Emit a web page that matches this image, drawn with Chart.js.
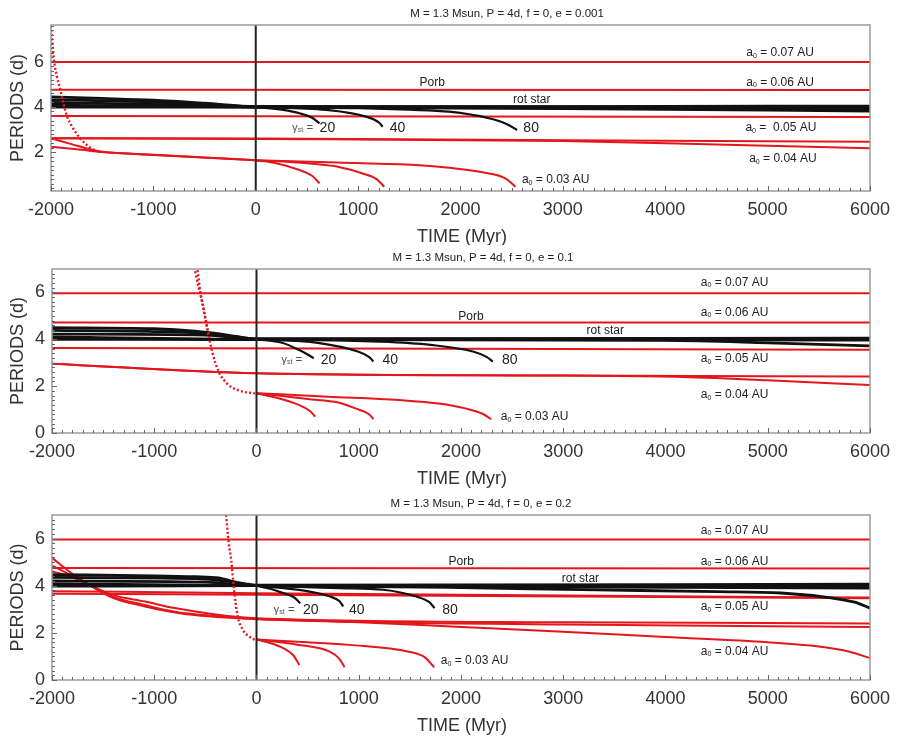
<!DOCTYPE html>
<html>
<head>
<meta charset="utf-8">
<script src="https://cdn.jsdelivr.net/npm/chart.js@4.4.0/dist/chart.umd.min.js"></script>
<style>
  body { margin: 0; background: #fff; }
  #wrap { position: relative; width: 898px; height: 739px; }
  #wrap canvas { position: absolute; left: 0; }
</style>
</head>
<body>
<div id="wrap">
  <canvas id="c1" width="898" height="245" style="top:0px"></canvas>
  <canvas id="c2" width="898" height="245" style="top:245px"></canvas>
  <canvas id="c3" width="898" height="249" style="top:490px"></canvas>
</div>
<script>
// ── Axis ticks / titles ──────────────────────────────────────────────────────
const xTicks = [-2000, -1000, 0, 1000, 2000, 3000, 4000, 5000, 6000];
const yTicksTop = [2, 4, 6];
const yTicksLow = [0, 2, 4, 6];
const titles = [
  "M = 1.3 Msun, P = 4d, f = 0, e = 0.001",
  "M = 1.3 Msun, P = 4d, f = 0, e = 0.1",
  "M = 1.3 Msun, P = 4d, f = 0, e = 0.2",
];

// ── Panel 1 (e = 0.001) ─────────────────────────────────────────────────────
// orbital periods, red
const p1Orb07 = [[-2000, 6.0], [6000, 6.0]];
const p1Orb06 = [[-2000, 4.76], [6000, 4.75]];
const p1Orb05 = [[-2000, 3.6], [2000, 3.58], [6000, 3.56]];
const p1Orb04a = [[-2000, 2.61], [0, 2.6], [3000, 2.52], [6000, 2.46]];
const p1Orb04b = [[-2000, 2.61], [0, 2.58], [3000, 2.49], [4500, 2.34], [6000, 2.17]];
const p1Orb03a = [[-2000, 2.61], [-1800, 2.35], [-1600, 2.1], [-1500, 2.01], [-1000, 1.88], [-500, 1.76], [0, 1.64]];
const p1Orb03b = [[-2000, 2.24], [-1700, 2.1], [-1500, 2.0], [-1000, 1.87], [0, 1.64]];
const p1Orb03g20 = [[0, 1.64], [200, 1.5], [428, 1.2], [550, 0.95], [623, 0.61]];
const p1Orb03g40 = [[0, 1.64], [500, 1.5], [800, 1.35], [1044, 1.05], [1180, 0.8], [1255, 0.46]];
const p1Orb03g80 = [[0, 1.64], [800, 1.53], [1563, 1.42], [1888, 1.3], [2277, 1.05], [2450, 0.8], [2537, 0.46]];
const p1Steep = [[-2005, 7.6], [-1993, 7.2], [-1975, 6.23], [-1942, 5.35], [-1908, 4.76], [-1875, 4.09],
  [-1842, 3.57], [-1793, 3.12], [-1728, 2.68], [-1631, 2.24], [-1534, 2.01]];
// stellar rotation, black
const p1RotA = [[-2000, 4.45], [-1500, 4.38], [-1000, 4.3], [-500, 4.17], [0, 4.02], [3000, 4.02], [6000, 4.04]];
const p1RotB = [[-2000, 4.33], [-1000, 4.22], [-500, 4.12], [0, 4.01], [6000, 4.0]];
const p1RotC = [[-2000, 4.2], [-1000, 4.12], [0, 4.0], [6000, 3.95]];
const p1RotD = [[-2000, 4.08], [0, 4.0], [6000, 3.9]];
const p1RotE = [[-2000, 3.99], [0, 3.99], [3000, 3.93], [6000, 3.82]];
const p1RotG20 = [[0, 4.0], [266, 3.87], [428, 3.72], [558, 3.5], [623, 3.27]];
const p1RotG40 = [[0, 4.0], [688, 3.87], [1077, 3.57], [1207, 3.3], [1240, 3.12]];
const p1RotG80 = [[0, 4.0], [1000, 3.95], [1500, 3.88], [1888, 3.79], [2277, 3.5], [2450, 3.25], [2553, 2.98]];

// ── Panel 2 (e = 0.1) ───────────────────────────────────────────────────────
const p2Orb07 = [[-2000, 5.97], [6000, 5.97]];
const p2Orb06 = [[-2000, 4.72], [6000, 4.72]];
const p2Orb05 = [[-2000, 3.63], [2000, 3.6], [6000, 3.55]];
const p2Orb04a = [[-2000, 2.96], [0, 2.55], [3000, 2.45], [6000, 2.41]];
const p2Orb04b = [[-2000, 2.96], [0, 2.55], [3000, 2.45], [4100, 2.4], [5000, 2.25], [6000, 2.05]];
const p2Orb03g20 = [[0, 1.7], [200, 1.5], [413, 1.2], [520, 0.95], [575, 0.7]];
const p2Orb03g40 = [[0, 1.7], [500, 1.45], [800, 1.3], [966, 1.05], [1100, 0.8], [1144, 0.59]];
const p2Orb03g80 = [[0, 1.7], [700, 1.55], [1391, 1.41], [1800, 1.25], [2044, 1.05], [2220, 0.8], [2295, 0.59]];
const p2Steep = [[-577, 6.95], [-545, 5.88], [-513, 5.17], [-481, 4.46], [-433, 3.46], [-369, 2.61],
  [-288, 2.11], [-175, 1.82], [0, 1.68]];
const p2SteepB = [[-600, 6.9], [-570, 6.3], [-530, 5.6], [-500, 4.9], [-470, 4.2]];
const p2RotA = [[-2000, 4.5], [-1000, 4.45], [-600, 4.35], [-400, 4.25], [-200, 4.12], [0, 4.02], [6000, 4.05]];
const p2RotB = [[-2000, 4.38], [-1000, 4.33], [-500, 4.25], [0, 4.02], [6000, 4.0]];
const p2RotC = [[-2000, 4.22], [-500, 4.18], [0, 4.01], [6000, 3.97]];
const p2RotD = [[-2000, 4.1], [0, 4.0], [6000, 4.02]];
const p2RotE = [[-2000, 4.0], [0, 3.99], [4000, 3.95], [5000, 3.85], [6000, 3.72]];
const p2RotG20 = [[0, 4.0], [250, 3.85], [413, 3.55], [500, 3.35], [560, 3.19]];
const p2RotG40 = [[0, 4.0], [600, 3.85], [998, 3.47], [1100, 3.25], [1144, 3.05]];
const p2RotG80 = [[0, 4.0], [1200, 3.9], [1703, 3.76], [2125, 3.47], [2250, 3.25], [2311, 3.05]];

// ── Panel 3 (e = 0.2) ───────────────────────────────────────────────────────
const p3Orb07 = [[-2000, 5.96], [6000, 5.96]];
const p3Orb06 = [[-2000, 4.75], [6000, 4.73]];
const p3Orb05a = [[-2000, 3.77], [0, 3.68], [3000, 3.58], [6000, 3.5]];
const p3Orb05b = [[-2000, 3.66], [0, 3.62], [6000, 3.47]];
const p3Orb04a = [[-2000, 5.18], [-1735, 4.3], [-1413, 3.62], [-1090, 3.33], [-800, 3.05], [-400, 2.78], [0, 2.62], [3000, 2.45], [6000, 2.4]];
const p3Orb04b = [[-2000, 4.85], [-1735, 4.27], [-1413, 3.55], [-1090, 3.18], [-800, 2.9], [-400, 2.72], [0, 2.6], [3000, 2.35], [6000, 2.25]];
const p3Orb04c = [[-2000, 4.62], [-1735, 4.25], [-1413, 3.5], [-1090, 3.12], [-766, 2.84], [-441, 2.69], [0, 2.58],
  [1000, 2.45], [2000, 2.25], [3000, 2.05], [4000, 1.82], [5000, 1.6], [5500, 1.42], [5800, 1.2], [6000, 0.93]];
const p3Orb03g20 = [[0, 1.72], [150, 1.55], [262, 1.35], [360, 1.05], [419, 0.64]];
const p3Orb03g40 = [[0, 1.72], [400, 1.5], [716, 1.2], [810, 0.9], [862, 0.54]];
const p3Orb03g80 = [[0, 1.72], [500, 1.6], [910, 1.49], [1489, 1.2], [1650, 0.95], [1738, 0.54]];
const p3Steep = [[-297, 7.0], [-272, 5.82], [-248, 5.1], [-216, 3.69], [-183, 2.69], [-134, 2.13], [-70, 1.84], [0, 1.67]];
const p3RotA = [[-2000, 4.47], [-1000, 4.42], [-600, 4.38], [-368, 4.33], [-250, 4.2], [-107, 4.08], [0, 4.02], [6000, 4.07]];
const p3RotB = [[-2000, 4.35], [-600, 4.3], [-300, 4.2], [-100, 4.05], [0, 4.01], [6000, 4.0]];
const p3RotC = [[-2000, 4.2], [-500, 4.15], [0, 4.0], [6000, 3.95]];
const p3RotD = [[-2000, 4.08], [0, 4.0], [6000, 3.9]];
const p3RotE = [[-2000, 3.98], [0, 4.0], [2000, 3.92], [3185, 3.83], [4500, 3.75], [5130, 3.69], [5620, 3.48], [5850, 3.3], [6000, 3.05]];
const p3RotG20 = [[0, 4.0], [150, 3.85], [262, 3.69], [370, 3.5], [428, 3.26]];
const p3RotG40 = [[0, 4.0], [450, 3.8], [720, 3.54], [810, 3.35], [850, 3.12]];
const p3RotG80 = [[0, 4.0], [800, 3.9], [1240, 3.83], [1563, 3.54], [1690, 3.3], [1742, 3.05]];

// ── Text annotations (data coords; "_" = subscript) ─────────────────────────
const p1Labels = [
  [1723, 5.07, "Porb"], [2696, 4.31, "rot star"],
  [458, 3.07, "γ_{st} =", "g"], [700, 3.07, "20", "n"], [1385, 3.07, "40", "n"], [2690, 3.07, "80", "n"],
  [5122, 6.4, "a_0 = 0.07 AU"], [5122, 5.07, "a_0 = 0.06 AU"], [5130, 3.07, "a_0 =  0.05 AU"],
  [5150, 1.69, "a_0 = 0.04 AU"], [2930, 0.76, "a_0 = 0.03 AU"],
];
const p2Labels = [
  [2097, 4.96, "Porb"], [3411, 4.36, "rot star"],
  [345, 3.12, "γ_{st} =", "g"], [705, 3.12, "20", "n"], [1309, 3.12, "40", "n"], [2477, 3.12, "80", "n"],
  [4676, 6.41, "a_0 = 0.07 AU"], [4676, 5.13, "a_0 = 0.06 AU"], [4676, 3.16, "a_0 = 0.05 AU"],
  [4676, 1.62, "a_0 = 0.04 AU"], [2720, 0.68, "a_0 = 0.03 AU"],
];
const p3Labels = [
  [2002, 5.02, "Porb"], [3168, 4.3, "rot star"],
  [270, 2.98, "γ_{st} =", "g"], [531, 2.98, "20", "n"], [980, 2.98, "40", "n"], [1893, 2.98, "80", "n"],
  [4676, 6.35, "a_0 = 0.07 AU"], [4676, 5.03, "a_0 = 0.06 AU"], [4676, 3.09, "a_0 = 0.05 AU"],
  [4676, 1.2, "a_0 = 0.04 AU"], [2133, 0.8, "a_0 = 0.03 AU"],
];

// ── Styling ─────────────────────────────────────────────────────────────────
const RED = "#e3161c";
const BLACK = "#111";
const FONT = "'Liberation Sans', Arial, sans-serif";

function line(pts, color, width, extra) {
  return Object.assign({
    data: pts.map(([x, y]) => ({ x, y })),
    borderColor: color,
    backgroundColor: color,
    borderWidth: width,
    showLine: true,
    pointRadius: 0,
    pointHoverRadius: 0,
    cubicInterpolationMode: "monotone",
    fill: false,
  }, extra || {});
}

// draw text with "_x" or "_{xy}" subscripts, centred at (cx, cy)
function richText(ctx, str, cx, cy, size) {
  const parts = [];
  const re = /_\{([^}]*)\}|_(.)/g;
  let last = 0, m;
  while ((m = re.exec(str))) {
    if (m.index > last) parts.push([str.slice(last, m.index), false]);
    parts.push([m[1] || m[2], true]);
    last = re.lastIndex;
  }
  if (last < str.length) parts.push([str.slice(last), false]);
  const subSize = Math.round(size * 0.62);
  let total = 0;
  parts.forEach(([t, sub]) => {
    ctx.font = `${sub ? subSize : size}px ${FONT}`;
    total += ctx.measureText(t).width;
  });
  let x = cx - total / 2;
  ctx.textAlign = "left";
  ctx.textBaseline = "middle";
  parts.forEach(([t, sub]) => {
    ctx.font = `${sub ? subSize : size}px ${FONT}`;
    ctx.fillText(t, x, sub ? cy + size * 0.22 : cy);
    x += ctx.measureText(t).width;
  });
}

const decor = {
  id: "decor",
  afterDraw(chart, args, opts) {
    const { ctx, chartArea: a, scales: { x, y } } = chart;
    ctx.save();

    // frame
    ctx.strokeStyle = "#9a9a9a";
    ctx.lineWidth = 1.5;
    ctx.strokeRect(a.left, a.top, a.right - a.left, a.bottom - a.top);

    // minor ticks, pointing into the plot
    ctx.strokeStyle = "#666";
    ctx.lineWidth = 1;
    ctx.beginPath();
    for (let v = x.min; v <= x.max; v += 100) {
      const px = Math.round(x.getPixelForValue(v)) + 0.5;
      const len = v % 1000 === 0 ? 5 : 3;
      ctx.moveTo(px, a.bottom);
      ctx.lineTo(px, a.bottom - len);
    }
    for (let v = Math.ceil(y.min * 5) / 5; v <= y.max; v += 0.2) {
      const py = Math.round(y.getPixelForValue(v)) + 0.5;
      const major = Math.abs(v - Math.round(v / 2) * 2) < 0.01;
      ctx.moveTo(a.left, py);
      ctx.lineTo(a.left + (major ? 5 : 3), py);
    }
    ctx.stroke();

    // panel title
    ctx.fillStyle = "#222";
    ctx.font = `11.5px ${FONT}`;
    ctx.textAlign = "center";
    ctx.textBaseline = "middle";
    ctx.fillText(opts.title, opts.titleX, a.top - 11);

    // axis titles
    ctx.fillStyle = "#333";
    ctx.font = `18px ${FONT}`;
    ctx.fillText("TIME (Myr)", 462, a.bottom + 46);
    ctx.save();
    ctx.translate(18, (a.top + a.bottom) / 2);
    ctx.rotate(-Math.PI / 2);
    ctx.fillText("PERIODS (d)", 0, 0);
    ctx.restore();

    // annotations
    opts.labels.forEach(([lx, ly, text, kind]) => {
      const size = kind === "n" ? 14 : kind === "g" ? 11.5 : 12;
      ctx.fillStyle = kind === "g" ? "#555" : "#222";
      richText(ctx, text, x.getPixelForValue(lx), y.getPixelForValue(ly), size);
    });
    ctx.restore();
  },
};

function makePanel(id, cfg) {
  const band = cfg.black.slice(0, 5);
  const gamma = cfg.black.slice(5);
  const datasets = [
    line([[0, cfg.yMin], [0, cfg.yMax]], "#222", 2, { cubicInterpolationMode: "default" }),
    ...cfg.steep.map(s => line(s, RED, 2.4, { borderDash: [2, 2.2] })),
    ...gamma.map(s => line(s, BLACK, 2.2)),
    ...band.map(s => line(s, BLACK, 2.8)),
    ...cfg.red.map(s => line(s, RED, 2)),
  ];

  new Chart(document.getElementById(id), {
    type: "scatter",
    data: { datasets },
    options: {
      responsive: false,
      animation: false,
      events: [],
      layout: { padding: { left: 0, top: cfg.pad.top, right: cfg.pad.right, bottom: cfg.pad.bottom } },
      plugins: {
        legend: { display: false },
        tooltip: { enabled: false },
        decor: { title: cfg.title, titleX: cfg.titleX, labels: cfg.labels },
      },
      scales: {
        x: {
          type: "linear",
          min: -2000,
          max: 6000,
          grid: { display: false, drawTicks: false },
          border: { display: false },
          afterBuildTicks: s => { s.ticks = xTicks.map(v => ({ value: v })); },
          afterFit: s => { s.height = 40; },
          ticks: { color: "#333", font: { family: FONT, size: 18 }, padding: 8, maxRotation: 0, callback: v => String(v) },
        },
        y: {
          type: "linear",
          min: cfg.yMin,
          max: cfg.yMax,
          grid: { display: false, drawTicks: false },
          border: { display: false },
          afterBuildTicks: s => { s.ticks = cfg.yTicks.map(v => ({ value: v })); },
          afterFit: s => { s.width = cfg.yWidth; },
          ticks: { color: "#333", font: { family: FONT, size: 18 }, padding: 7, callback: v => String(v) },
        },
      },
    },
    plugins: [decor],
  });
}

makePanel("c1", {
  yMin: 0.27, yMax: 7.64, yTicks: yTicksTop, yWidth: 51,
  pad: { top: 25, right: 25, bottom: 14 },
  title: titles[0], titleX: 507, labels: p1Labels,
  steep: [p1Steep],
  black: [p1RotA, p1RotB, p1RotC, p1RotD, p1RotE, p1RotG20, p1RotG40, p1RotG80],
  red: [p1Orb07, p1Orb06, p1Orb05, p1Orb04a, p1Orb04b, p1Orb03a, p1Orb03b, p1Orb03g20, p1Orb03g40, p1Orb03g80],
});

makePanel("c2", {
  yMin: 0, yMax: 7, yTicks: yTicksLow, yWidth: 52,
  pad: { top: 24, right: 24, bottom: 17 },
  title: titles[1], titleX: 483, labels: p2Labels,
  steep: [p2Steep, p2SteepB],
  black: [p2RotA, p2RotB, p2RotC, p2RotD, p2RotE, p2RotG20, p2RotG40, p2RotG80],
  red: [p2Orb07, p2Orb06, p2Orb05, p2Orb04a, p2Orb04b, p2Orb03g20, p2Orb03g40, p2Orb03g80],
});

makePanel("c3", {
  yMin: 0, yMax: 7, yTicks: yTicksLow, yWidth: 52,
  pad: { top: 25, right: 24, bottom: 19 },
  title: titles[2], titleX: 481, labels: p3Labels,
  steep: [p3Steep],
  black: [p3RotA, p3RotB, p3RotC, p3RotD, p3RotE, p3RotG20, p3RotG40, p3RotG80],
  red: [p3Orb07, p3Orb06, p3Orb05a, p3Orb05b, p3Orb04a, p3Orb04b, p3Orb04c, p3Orb03g20, p3Orb03g40, p3Orb03g80],
});
</script>
</body>
</html>
